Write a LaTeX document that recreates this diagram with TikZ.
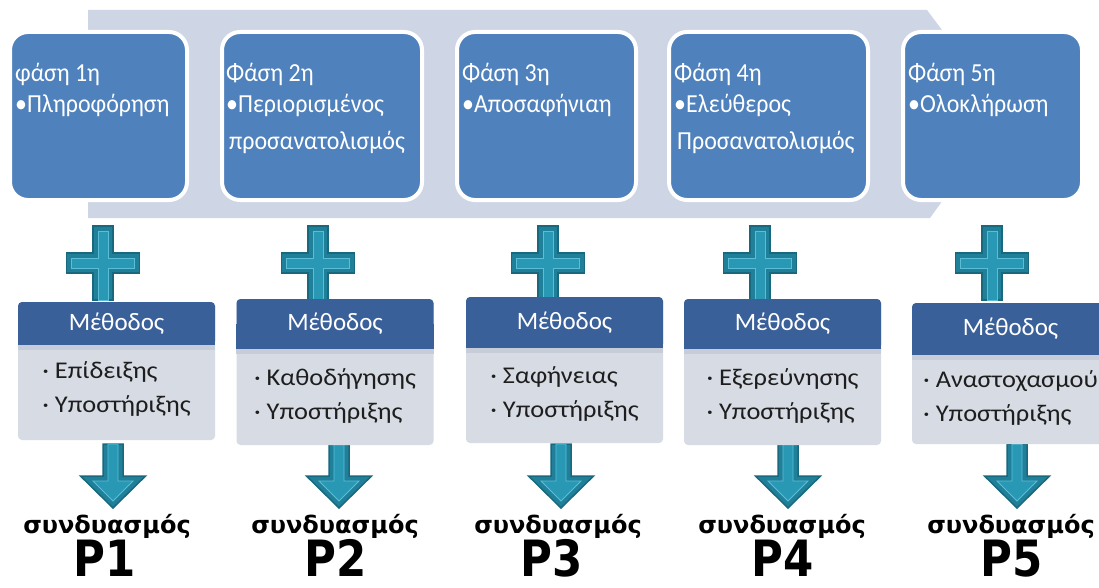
\documentclass[tikz,border=0pt]{standalone}
\usepackage{fontspec}
\setmainfont{Carlito}
\newfontfamily\ttlfont[FakeStretch=0.92]{Carlito}
\newfontfamily\bodyfont[FakeStretch=1.1]{Carlito}
\newfontfamily\labfont{DejaVu Sans}
\newfontfamily\pfont[FakeStretch=0.87]{DejaVu Sans}
\usetikzlibrary{calc}
\definecolor{bandcol}{RGB}{206,213,228}
\definecolor{phasecol}{RGB}{79,129,189}
\definecolor{mheadcol}{RGB}{58,96,154}
\definecolor{mbodycol}{RGB}{214,219,228}
\definecolor{mshadecol}{RGB}{198,204,216}
\definecolor{tealfill}{RGB}{32,128,154}
\definecolor{tealdark}{RGB}{24,104,126}
\definecolor{tealin}{RGB}{40,152,180}
\definecolor{teallight}{RGB}{92,190,214}
\definecolor{bodytext}{RGB}{30,30,30}
\tikzset{
  phasebox/.style={draw=white, line width=4pt, fill=phasecol, rounded corners=18pt,
    minimum height=168pt, inner sep=0pt},
  ttl/.style={text=white, font=\ttlfont\fontsize{26}{30}\selectfont, anchor=base west, inner sep=0pt},
  mbdy/.style={fill=mbodycol, rounded corners=4pt, minimum width=197pt, inner sep=0pt},
  mhdr/.style={fill=mheadcol, rounded corners=4pt, minimum width=197pt, inner sep=0pt},
  mlab/.style={text=white, font=\fontsize{25}{30}\selectfont, inner sep=0pt},
  btxt/.style={align=left, font=\bodyfont\fontsize{24}{34}\selectfont, text=bodytext, inner sep=0pt},
  comb/.style={font=\labfont\bfseries\fontsize{24}{28}\selectfont, anchor=base, inner sep=0pt},
  plab/.style={font=\pfont\bfseries\fontsize{50}{54}\selectfont, anchor=base, inner sep=0pt, text depth=0pt},
  plus/.pic={
    \filldraw[fill=tealfill, draw=tealdark, line width=1.5pt]
      (-10,-37) -- (10,-37) -- (10,-10) -- (36.5,-10) -- (36.5,10) -- (10,10) -- (10,37)
      -- (-10,37) -- (-10,10) -- (-36.5,10) -- (-36.5,-10) -- (-10,-10) -- cycle;
    \filldraw[fill=tealin, draw=teallight, line width=0.8pt]
      (-5,-32) -- (5,-32) -- (5,-5) -- (31.5,-5) -- (31.5,5) -- (5,5) -- (5,37)
      -- (-5,37) -- (-5,5) -- (-31.5,5) -- (-31.5,-5) -- (-5,-5) -- cycle;
  },
  downarrow/.pic={
    \filldraw[fill=tealfill, draw=tealdark, line width=1.5pt]
      (-10,0) -- (10,0) -- (10,32) -- (32.5,32) -- (0,64) -- (-32.5,32) -- (-10,32) -- cycle;
    \filldraw[fill=tealin, draw=teallight, line width=0.8pt]
      (-5,0) -- (5,0) -- (5,37) -- (20,37) -- (0,57) -- (-20,37) -- (-5,37) -- cycle;
  }
}
\begin{document}
\begin{tikzpicture}[x=1pt,y=-1pt]
\useasboundingbox (0,0) rectangle (1099,588);
\fill[white] (0,0) rectangle (1099,588);

% background band (chevron)
\fill[bandcol] (88,10) -- (927,10) -- (1005,114) -- (930,218) -- (88,218) -- cycle;

% phase boxes
\node[phasebox, minimum width=177pt] (p1) at (98.5,116) {};
\node[phasebox, minimum width=200pt] (p2) at (322,116) {};
\node[phasebox, minimum width=179pt] (p3) at (546.5,116) {};
\node[phasebox, minimum width=199pt] (p4) at (768.5,116) {};
\node[phasebox, minimum width=179pt] (p5) at (992.5,116) {};

\node[ttl] (p1t) at (15,82) {φάση 1η};
\node[ttl] (p1a) at (15,113) {•Πληροφόρηση};
\node[ttl] (p2t) at (226,82) {Φάση 2η};
\node[ttl] (p2a) at (226,113) {•Περιορισμένος};
\node[ttl] (p2b) at (229,150) {προσανατολισμός};
\node[ttl] (p3t) at (462,82) {Φάση 3η};
\node[ttl] (p3a) at (462,113) {•Αποσαφήνιαη};
\node[ttl] (p4t) at (674,82) {Φάση 4η};
\node[ttl] (p4a) at (674,113) {•Ελεύθερος};
\node[ttl] (p4b) at (677,150) {Προσανατολισμός};
\node[ttl] (p5t) at (908,82) {Φάση 5η};
\node[ttl] (p5a) at (908,113) {•Ολοκλήρωση};

% plus signs
\pic at (103,263) {plus};
\pic at (318,263) {plus};
\pic at (548,263) {plus};
\pic at (760,263) {plus};
\pic at (992,263) {plus};

% down arrows
\pic at (113,444) {downarrow};
\pic at (339,444) {downarrow};
\pic at (561,444) {downarrow};
\pic at (788,444) {downarrow};
\pic at (1017,444) {downarrow};

% method boxes
\node[mbdy, minimum height=138pt] (m1) at (116.5,371) {};
\node[mhdr, minimum height=43pt] (h1) at (116.5,323.5) {};
\node[mbdy, minimum height=146pt] (m2) at (335,372) {};
\node[mhdr, minimum height=50pt] (h2) at (335,324) {};
\node[mbdy, minimum height=146pt] (m3) at (564.5,370) {};
\node[mhdr, minimum height=51pt] (h3) at (564.5,322.5) {};
\node[mbdy, minimum height=146pt] (m4) at (782.5,372) {};
\node[mhdr, minimum height=50pt] (h4) at (782.5,324) {};
\node[mbdy, minimum height=141pt] (m5) at (1010.5,373.5) {};
\node[mhdr, minimum height=52pt] (h5) at (1010.5,329) {};

\foreach \i in {1,...,5}{
  \fill[mheadcol] (h\i.west) rectangle (h\i.south east);
  \fill[mshadecol] (h\i.south west) rectangle ($(h\i.south east)+(0,5)$);
}

\node[mlab] (l1) at (h1) {Μέθοδος};
\node[mlab] (l2) at (h2) {Μέθοδος};
\node[mlab] (l3) at (h3) {Μέθοδος};
\node[mlab] (l4) at (h4) {Μέθοδος};
\node[mlab] (l5) at (h5) {Μέθοδος};

\node[btxt] (b1) at (116.5,389) {· Επίδειξης\\· Υποστήριξης};
\node[btxt] (b2) at (335,395.5) {· Καθοδήγησης\\· Υποστήριξης};
\node[btxt] (b3) at (564.5,394) {· Σαφήνειας\\· Υποστήριξης};
\node[btxt] (b4) at (782.5,396) {· Εξερεύνησης\\· Υποστήριξης};
\node[btxt] (b5) at (1010.5,398) {· Αναστοχασμού\\· Υποστήριξης};

% bottom labels
\node[comb] (c1) at (107,533) {συνδυασμός};
\node[comb] (c2) at (335,533) {συνδυασμός};
\node[comb] (c3) at (558,533) {συνδυασμός};
\node[comb] (c4) at (782,533) {συνδυασμός};
\node[comb] (c5) at (1011,533) {συνδυασμός};
\node[plab] (r1) at (105,576) {P1};
\node[plab] (r2) at (336,576) {P2};
\node[plab] (r3) at (552,576) {P3};
\node[plab] (r4) at (783,576) {P4};
\node[plab] (r5) at (1012,576) {P5};
\end{tikzpicture}
\end{document}
